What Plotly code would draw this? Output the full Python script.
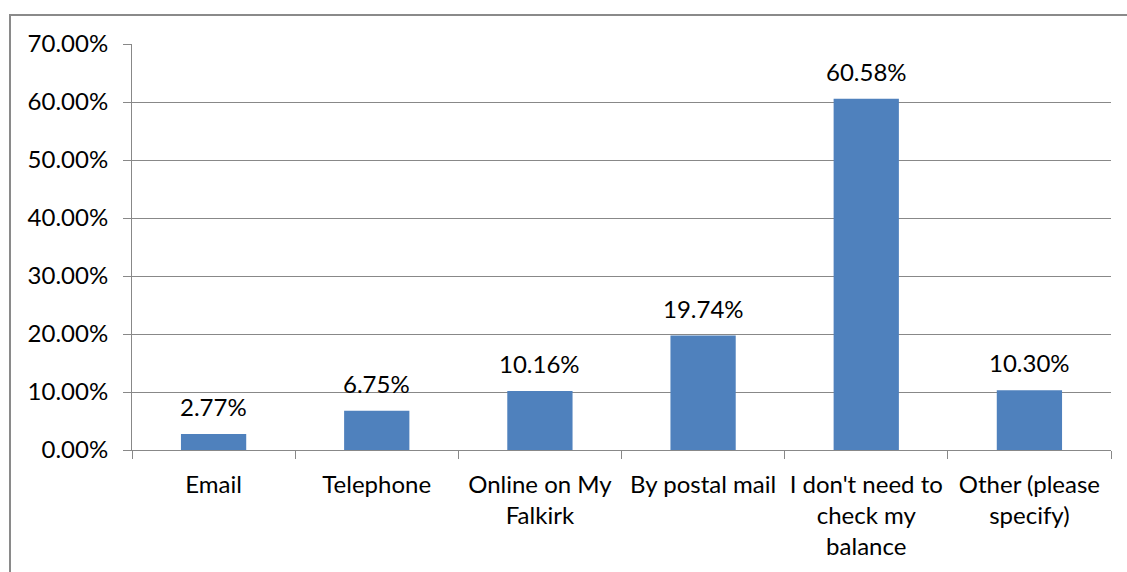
import plotly.graph_objects as go

categories = [
    "Email",
    "Telephone",
    "Online on My<br>Falkirk",
    "By postal mail",
    "I don't need to<br>check my<br>balance",
    "Other (please<br>specify)",
]
shares = [0.0277, 0.0675, 0.1016, 0.1974, 0.6058, 0.1030]
y_ticks = [0.0, 0.1, 0.2, 0.3, 0.4, 0.5, 0.6, 0.7]

W, H = 1127, 572
ML, MR, MT, MB = 132, 16, 44, 122
FONT = "Lato"
FS = 24
GRID = "#888888"

fig = go.Figure(
    go.Bar(
        x=categories,
        y=shares,
        marker=dict(color="#4F81BD", line=dict(width=0)),
        width=0.4,
        cliponaxis=False,
    )
)

# Value labels above each bar
for cat, v in zip(categories, shares):
    fig.add_annotation(
        x=cat,
        y=v,
        text=f"{v:.2%}",
        showarrow=False,
        yanchor="bottom",
        yshift=11,
        font=dict(family=FONT, size=FS, color="#000000"),
    )

fig.update_layout(
    width=W,
    height=H,
    margin=dict(l=ML, r=MR, t=MT, b=MB),
    paper_bgcolor="white",
    plot_bgcolor="white",
    showlegend=False,
    font=dict(family=FONT, size=FS, color="#000000"),
    bargap=0.6,
)

fig.update_yaxes(
    range=[0, 0.7],
    tickvals=y_ticks,
    tickformat=".2%",
    showgrid=True,
    gridcolor=GRID,
    gridwidth=1,
    showline=True,
    linecolor=GRID,
    linewidth=1,
    ticks="outside",
    ticklen=8,
    tickcolor=GRID,
    zeroline=False,
    ticklabelstandoff=10,
)

fig.update_xaxes(
    range=[-0.5, 5.5],
    showline=True,
    linecolor=GRID,
    linewidth=1,
    ticks="outside",
    tickson="boundaries",
    ticklen=8,
    tickcolor=GRID,
    showgrid=False,
    ticklabelstandoff=13,
)

# Outer chart frame (left and top edges visible; the rest runs off the page)
pw = W - ML - MR
ph = H - MT - MB
x0 = (10 - ML) / pw
x1 = (W + 20 - ML) / pw
y_top = 1 + (MT - 15) / ph
y_bot = -(MB + 20) / ph
fig.add_shape(
    type="rect",
    xref="paper",
    yref="paper",
    x0=x0,
    x1=x1,
    y0=y_bot,
    y1=y_top,
    line=dict(color="#8A8A8A", width=2),
    layer="below",
)

fig.write_html("out.html")
